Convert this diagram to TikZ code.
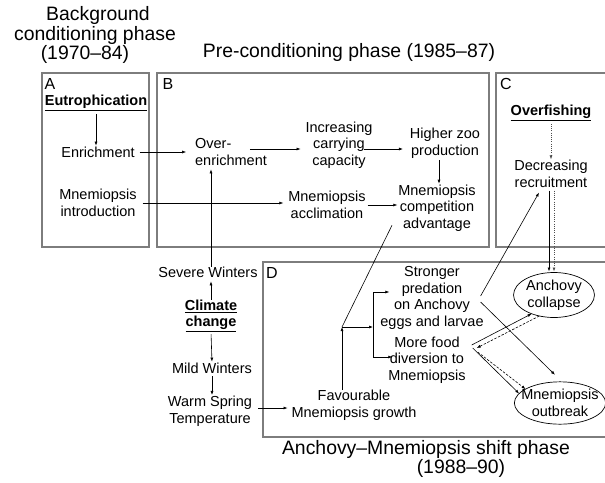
\documentclass[tikz,border=0pt]{standalone}
\usepackage{fontspec}
\setmainfont{Liberation Sans}
\usetikzlibrary{arrows.meta,shapes.geometric}
\definecolor{boxgray}{RGB}{125,125,125}
\begin{document}
\begin{tikzpicture}[x=1pt,y=-1pt,
  txt/.style={font=\fontsize{14.5}{16.5}\selectfont, align=center, inner sep=0pt, outer sep=0pt},
  ttl/.style={font=\fontsize{19.4}{17}\selectfont, inner sep=0pt, align=center},
  lbl/.style={font=\fontsize{16}{16}\selectfont, inner sep=0pt},
  panel/.style={draw=boxgray, line width=1.2pt},
  arr/.style={-{Latex[length=4pt,width=3pt]}, line width=0.6pt},
  dsh/.style={arr, dash pattern=on 2.5pt off 1.5pt},
  dotl/.style={arr, draw=black!70, dash pattern=on 1pt off 1.2pt},
  ell/.style={txt, draw, ellipse, line width=0.7pt}]
\useasboundingbox (0,0) rectangle (605,482);
\clip (0,0) rectangle (605,482);
% panels
\draw[panel] (42,73) rectangle (149,247);
\draw[panel] (157,73) rectangle (489,247);
\draw[panel] (496,73) rectangle (620,247);
\draw[panel] (263,262) rectangle (620,437);
% titles
\node[ttl] (t1) at (95,35) {\hspace*{6pt}Background\\conditioning phase\\(1970–84)\hspace*{20pt}};
\node[ttl] (t4) at (349,52) {Pre-conditioning phase (1985–87)};
\node[ttl] (t5) at (461,459) {Anchovy–Mnemiopsis shift phase\hspace*{70pt}\\(1988–90)};
% panel letters
\node[lbl] (la) at (50,84) {A};
\node[lbl] (lb) at (168,84) {B};
\node[lbl] (lc) at (506,84) {C};
\node[lbl] (ld) at (272,273) {D};
% nodes
\node[txt] (eut) at (96,103) {\underline{\textbf{Eutrophication}}};
\node[txt] (enr) at (98,152) {Enrichment};
\node[txt, align=left] (over) at (231,152) {Over-\\enrichment};
\node[txt] (inc) at (339,145) {Increasing\\carrying\\capacity};
\node[txt] (high) at (445,143) {Higher zoo\\production};
\node[txt] (comp) at (437,208) {Mnemiopsis\\competition\\advantage};
\node[txt] (intro) at (98,203) {Mnemiopsis\\introduction};
\node[txt] (accl) at (327,205) {Mnemiopsis\\acclimation};
\node[txt] (ovf) at (551,113) {\underline{\textbf{Overfishing}}};
\node[txt] (decr) at (551,174) {Decreasing\\recruitment};
\node[txt] (sev) at (208,272) {Severe Winters};
\node[txt] (clim) at (211,316) {\underline{\textbf{Climate}}\\\underline{\textbf{change}}};
\node[txt] (mild) at (212,368) {Mild Winters};
\node[txt] (warm) at (210,411) {Warm Spring\\Temperature};
\node[txt] (fav) at (354,405) {Favourable\\Mnemiopsis growth};
\node[txt] (str) at (432,298) {Stronger\\predation\\on Anchovy\\eggs and larvae};
\node[txt] (food) at (427,360) {More food\\diversion to\\Mnemiopsis};
\node[ell, inner xsep=0.8pt, inner ysep=0.9pt] (anch) at (554,295) {Anchovy\\collapse};
\node[ell, inner xsep=-6.4pt, inner ysep=1.4pt] (out) at (560,403) {Mnemiopsis\\outbreak};
\coordinate (J) at (342,327);
\coordinate (brk) at (373,327);
% connectors
\draw[arr, shorten <=3pt, shorten >=1pt] (eut.south) -- (eut.south |- enr.north);
\draw[arr, shorten <=5pt, shorten >=9pt] (enr.east) -- (enr.east -| over.west);
\draw[arr] ([shift={(-17,-3)}]over.east) -- ([shift={(-5,4)}]inc.west);
\draw[arr] ([shift={(-8,4)}]inc.east) -- ([shift={(-7,6)}]high.west);
\draw[arr, shorten <=2pt, shorten >=1pt] ([shift={(2,0)}]comp.north |- high.south) -- ([shift={(2,0)}]comp.north);
\draw[arr, shorten <=6pt, shorten >=5pt] (intro.east) -- (intro.east -| accl.west);
\draw[arr, shorten <=2pt, shorten >=1pt] (accl.east) -- (accl.east -| comp.west);
\draw[dotl, shorten <=3pt, shorten >=1pt] (ovf.south) -- (decr.north);
\draw[arr, shorten <=3pt] ([shift={(-2,0)}]decr.south) -- ([shift={(-5,-1)}]anch.north);
\draw[dotl, shorten <=3pt] ([shift={(3,0)}]decr.south) -- ([shift={(0,-1)}]anch.north);
\draw[arr] ([shift={(3,0)}]sev.north) -- ([shift={(-20,4)}]over.south);
\draw[arr] (clim.north) -- ([shift={(3,4)}]sev.south);
\draw[arr, shorten <=2pt, shorten >=1pt] (clim.south) -- (mild.north);
\draw[arr, shorten <=3pt, shorten >=1pt] (mild.south) -- (mild.south |- warm.north);
\draw[arr] ([shift={(6,-3)}]warm.east) -- ([shift={(-4,3)}]fav.west);
\draw[arr] ([shift={(-12,0)}]fav.north) -- (J);
\draw[line width=0.6pt] ([shift={(-45,-6)}]comp.south) -- (J);
\draw[arr] (J) -- (brk);
\draw[arr] (brk) |- ([shift={(9,-6)}]str.west);
\draw[arr] (brk) |- ([shift={(4,-3)}]food.west);
\draw[arr] ([shift={(-3,-2)}]str.east) -- ([shift={(-12,5)}]decr.south);
\draw[arr] ([shift={(-3,4)}]str.east) -- ([shift={(-5,-7)}]out.north);
\draw[arr] ([shift={(6,-15)}]food.east) -- (anch.220);
\draw[dsh] (anch.235) -- ([shift={(11,-12)}]food.east);
\draw[arr] ([shift={(7,-12)}]food.east) -- (out.167);
\draw[dsh] ([shift={(12,-8)}]food.east) -- (out.158);
\end{tikzpicture}
\end{document}
